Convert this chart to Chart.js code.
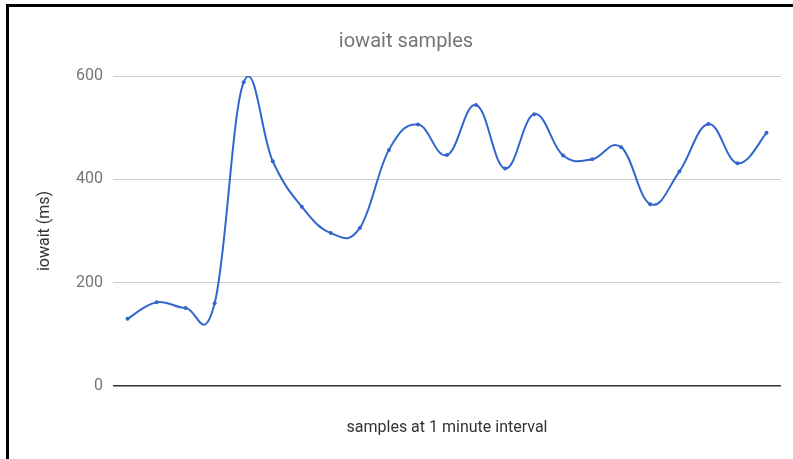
<!DOCTYPE html>
<html>
<head>
<meta charset="utf-8">
<script src="https://cdn.jsdelivr.net/npm/chart.js@4/dist/chart.umd.min.js"></script>
<style>
  html, body { margin: 0; padding: 0; background: #fff; }
  #frame {
    position: absolute;
    left: 6px;
    top: 4px;
    width: 787px;
    height: 455px;
    border-top: 3px solid #000;
    border-left: 3px solid #000;
    box-sizing: border-box;
  }
  canvas { position: absolute; left: 0; top: 0; }
</style>
</head>
<body>
<div id="frame"></div>
<canvas id="myChart" width="793" height="459"></canvas>
<script>
// one sample per minute, 23 samples
const samples = [
  '1', '2', '3', '4', '5', '6', '7', '8', '9', '10', '11', '12',
  '13', '14', '15', '16', '17', '18', '19', '20', '21', '22', '23',
]
const iowaitMs = [
  130, 162, 151, 160, 588, 435, 347, 296, 306, 457, 506, 447,
  544, 421, 526, 446, 439, 462, 352, 415, 507, 431, 490,
]
const yTicks = [0, 200, 400, 600]

const blue = '#3366cc'

// uniform cardinal spline (like the "function" curve), built on the points
// chart.js has already placed through its scales
const cardinalCurve = {
  id: 'cardinalCurve',
  beforeDatasetsDraw(chart) {
    const s = 0.2
    chart.data.datasets.forEach((ds, di) => {
      const meta = chart.getDatasetMeta(di)
      const pts = meta.data
      const n = pts.length
      for (let i = 0; i < n; i++) {
        const prev = pts[Math.max(i - 1, 0)]
        const next = pts[Math.min(i + 1, n - 1)]
        const mx = (next.x - prev.x) * s
        const my = (next.y - prev.y) * s
        pts[i].cp1x = pts[i].x - mx
        pts[i].cp1y = pts[i].y - my
        pts[i].cp2x = pts[i].x + mx
        pts[i].cp2y = pts[i].y + my
      }
      if (meta.dataset) meta.dataset._pointsUpdated = true
    })
  },
}

var ctx = document.getElementById('myChart').getContext('2d')
var myChart = new Chart(ctx, {
  type: 'line',
  plugins: [cardinalCurve],
  data: {
    labels: samples,
    datasets: [
      {
        data: iowaitMs,
        borderColor: blue,
        backgroundColor: blue,
        borderWidth: 2,
        pointRadius: 2,
        pointBorderWidth: 0,
        tension: 0.4,
        fill: false,
      },
    ],
  },
  options: {
    responsive: false,
    animation: false,
    layout: {
      padding: { top: 30, left: 31, right: 12, bottom: 17 },
    },
    plugins: {
      legend: { display: false },
      tooltip: { enabled: false },
      title: {
        display: true,
        text: 'iowait samples',
        color: '#757575',
        font: { family: 'Roboto', size: 20, weight: 'normal', lineHeight: 1.2 },
        padding: { top: 0, bottom: 22 },
      },
    },
    scales: {
      x: {
        offset: true,
        grid: { display: false },
        border: { display: false },
        ticks: { display: false },
        title: {
          display: true,
          text: 'samples at 1 minute interval',
          color: '#333',
          font: { family: 'Roboto', size: 16, lineHeight: 1.2 },
        },
        afterFit: function (scale) {
          scale.height = 56
        },
      },
      y: {
        min: 0,
        max: 600,
        afterBuildTicks: function (scale) {
          scale.ticks = yTicks.map((v) => ({ value: v }))
        },
        grid: {
          drawTicks: false,
          color: (c) => (c.tick && c.tick.value === 0 ? '#333' : '#ccc'),
          lineWidth: (c) => (c.tick && c.tick.value === 0 ? 1.5 : 1),
        },
        border: { display: false },
        ticks: {
          color: '#757575',
          padding: 10,
          font: { family: 'Roboto', size: 16 },
        },
        title: {
          display: true,
          text: 'iowait (ms)',
          color: '#333',
          font: { family: 'Roboto', size: 16, lineHeight: 1.2 },
        },
        afterFit: function (scale) {
          scale.width = 82
        },
      },
    },
  },
})
</script>
</body>
</html>
